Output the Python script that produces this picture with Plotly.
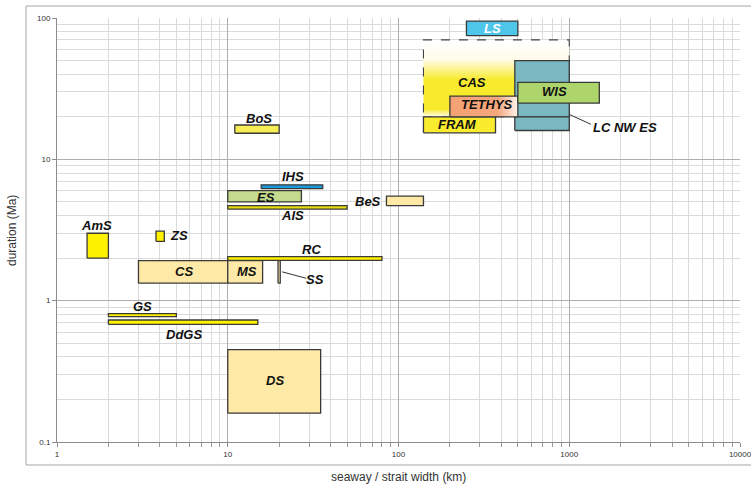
import numpy as np
import plotly.graph_objects as go

# Seaways / straits: width range (km) and duration range (Ma)
names = ["CAS", "FRAM", "LC NW ES", "LC NW ES (early)", "TETHYS", "WIS", "LS",
         "BoS", "IHS", "ES", "AIS", "BeS", "AmS", "ZS", "RC", "CS", "MS", "SS",
         "GS", "DdGS", "DS"]
width_min = [140, 140, 480, 480, 200, 500, 250,
             11, 15.7, 10, 10, 85, 1.5, 3.8, 10, 3, 10, 19.7,
             2, 2, 10]
width_max = [1000, 370, 1000, 1000, 500, 1500, 500,
             20, 36, 27, 50, 140, 2, 4.25, 80, 10, 16, 20.3,
             5, 15, 35]
dur_min = [20, 15.4, 20, 16, 20, 25, 75,
           15.3, 6.2, 5, 4.45, 4.7, 2, 2.63, 1.93, 1.33, 1.33, 1.33,
           0.77, 0.68, 0.16]
dur_max = [70, 20, 50, 20, 28, 35, 95,
           17.5, 6.6, 6, 4.7, 5.5, 3, 3.1, 2.05, 1.92, 1.92, 1.92,
           0.81, 0.73, 0.45]
fills = ["#FFFFFF", "#F9EB2E", "#7BB9C2", "#7BB9C2", "#F4A273", "#AED46C", "#4DC6EA",
         "#F7EE55", "#1A9AD6", "#C4DA8C", "#E6DA10", "#FFE9A6", "#FFF200", "#FFF200",
         "#FFF200", "#FFE9A6", "#FFE9A6", "#FFE9A6", "#FFF200", "#FFF200", "#FFE9A6"]

# Axis ticks
x_ticks = [1, 10, 100, 1000, 10000]
x_tick_text = ["1", "10", "100", "1000", "10000"]
y_ticks = [0.1, 1, 10, 100]
y_tick_text = ["0.1", "1", "10", "100"]

# Box labels and where they sit (data coordinates)
label_text = ["CAS", "FRAM", "LC NW ES", "TETHYS", "WIS", "LS", "BoS", "IHS", "ES",
              "AIS", "BeS", "AmS", "ZS", "RC", "CS", "MS", "SS", "GS", "DdGS", "DS"]
label_x = [271, 221, 1340, 331, 817, 354, 15.2, 24, 16.7,
           24, 81, 1.71, 4.44, 30.9, 5.53, 13.0, 32.3, 3.15, 5.55, 18.8]
label_y = [35.2, 17.5, 16.9, 24.6, 30.4, 84, 19.6, 7.5, 5.41,
           4.03, 5.01, 3.39, 2.91, 2.29, 1.62, 1.62, 1.41, 0.905, 0.58, 0.274]
label_anchor = ["center", "center", "left", "center", "center", "center", "center",
                "center", "center", "center", "right", "center", "left", "center",
                "center", "center", "center", "center", "center", "center"]
label_color = ["#111111"] * 5 + ["#FFFFFF"] + ["#111111"] * 14

# Leader lines from a box to its label
leaders = [((1000, 20.8), (1339, 17.7)), ((20.8, 1.60), (28.8, 1.44))]

fig = go.Figure()

for i, n in enumerate(names):
    x0, x1, y0, y1 = width_min[i], width_max[i], dur_min[i], dur_max[i]
    tr = dict(
        x=[x0, x1, x1, x0, x0], y=[y0, y0, y1, y1, y0],
        mode="lines", fill="toself", fillcolor=fills[i],
        line=dict(color="#3A3A3A", width=1.3),
        hoverinfo="text", text=n, showlegend=False,
    )
    if n == "CAS":
        tr["line"] = dict(color="#444444", width=1.1, dash="dash")
        tr["fillgradient"] = dict(
            type="vertical",
            colorscale=[[0, "#FFFDF2"], [0.1, "#F8EA2C"], [0.48, "#F8EA2C"],
                        [0.75, "#FFFCEC"], [1, "#FFFFFF"]])
    elif n == "TETHYS":
        tr["fillgradient"] = dict(
            type="horizontal",
            colorscale=[[0, "#F4A273"], [0.7, "#F5A77C"], [1, "#FFF3EC"]])
    fig.add_trace(go.Scatter(**tr))

for (a, b) in leaders:
    fig.add_trace(go.Scatter(x=[a[0], b[0]], y=[a[1], b[1]], mode="lines",
                             line=dict(color="#333333", width=1),
                             hoverinfo="skip", showlegend=False))

for t, lx, ly, anc, col in zip(label_text, label_x, label_y, label_anchor, label_color):
    fig.add_annotation(x=np.log10(lx), y=np.log10(ly), text=f"<b><i>{t}</i></b>",
                       showarrow=False, xanchor=anc, yanchor="middle",
                       font=dict(family="Liberation Sans, Arial", size=13, color=col))

# Axis titles
title_font = dict(family="Liberation Sans, Arial", size=12, color="#333333")
fig.add_annotation(text="seaway / strait width (km)", xref="paper", yref="paper",
                   x=0.5, y=-0.0825, xanchor="center", yanchor="middle",
                   showarrow=False, font=title_font)
fig.add_annotation(text="duration (Ma)", xref="paper", yref="paper",
                   x=-0.0659, y=0.5, xanchor="center", yanchor="middle",
                   textangle=-90, showarrow=False, font=title_font)

# Outer chart frame
fig.add_shape(type="rect", xref="paper", yref="paper",
              x0=-0.0454, x1=1.03, y0=-0.0542, y1=1.0283,
              line=dict(color="#A6A6A6", width=1), fillcolor="rgba(0,0,0,0)",
              layer="below")

axis_common = dict(
    type="log", tickmode="array", showline=True, linecolor="#8C8C8C", linewidth=1,
    gridcolor="#ADADAD", gridwidth=1, zeroline=False, automargin=False,
    ticks="outside", ticklen=4, tickcolor="#8C8C8C",
    tickfont=dict(family="Liberation Sans, Arial", size=8, color="#333333"),
    mirror=False, ticklabeloverflow="allow",
)

fig.update_xaxes(
    **axis_common, range=[0, 4], tickvals=x_ticks, ticktext=x_tick_text,
    minor=dict(dtick="D1", ticks="outside", ticklen=4, tickcolor="#9A9A9A",
               showgrid=True, gridcolor="#DADADA", gridwidth=1),
)
fig.update_yaxes(
    **axis_common, range=[-1, 2], tickvals=y_ticks, ticktext=y_tick_text,
    minor=dict(dtick="D1", ticks="", showgrid=True, gridcolor="#DADADA", gridwidth=1),
)

fig.update_layout(
    width=751, height=487,
    margin=dict(l=57, r=11, t=18, b=45),
    plot_bgcolor="#FFFFFF", paper_bgcolor="#FFFFFF",
    showlegend=False,
)

fig.write_html("out.html")
